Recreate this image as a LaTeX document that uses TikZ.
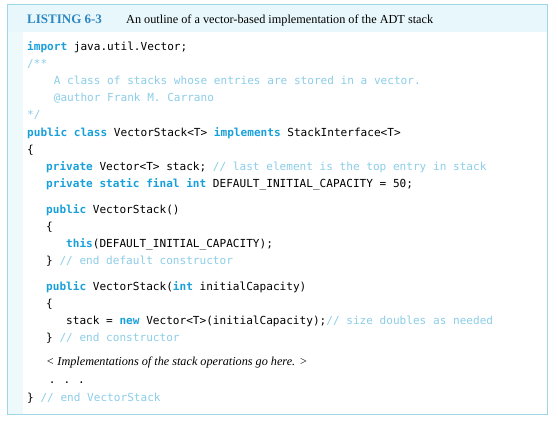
\documentclass[tikz,border=0pt]{standalone}
\usepackage{fontspec}
\setmainfont{Liberation Serif}
\newfontfamily\codefont{DejaVu Sans Mono}
\definecolor{frameblue}{RGB}{158,214,228}
\definecolor{bandfill}{RGB}{232,247,251}
\definecolor{stripfill}{RGB}{238,249,251}
\definecolor{labelblue}{RGB}{45,135,195}
\definecolor{kwblue}{RGB}{25,160,218}
\definecolor{cmtblue}{RGB}{140,205,232}
\newcommand{\kw}[1]{\textbf{\textcolor{kwblue}{#1}}}
\newcommand{\cmt}[1]{\textcolor{cmtblue}{#1}}
\begin{document}
\begin{tikzpicture}[x=1bp,y=-1bp,
  codeline/.style={anchor=base west,inner sep=0pt,font=\codefont\fontsize{11.08bp}{13bp}\selectfont},
  serifline/.style={anchor=base west,inner sep=0pt}]
\useasboundingbox (0,0) rectangle (558,422);
\fill[bandfill] (7,4) rectangle (547,32);
\fill[stripfill] (7,32) rectangle (23,414);
\draw[frameblue,line width=0.9bp] (7,4) rectangle (547,414);
\node[serifline,font=\fontsize{13bp}{15bp}\selectfont\bfseries,text=labelblue] (lab) at (27,23) {LISTING 6-3};
\node[serifline,font=\fontsize{12.25bp}{14bp}\selectfont] (cap) at (126,23) {An outline of a vector-based implementation of the ADT stack};
\node[codeline] (l1) at (27,50) {\kw{import} java.util.Vector;};
\node[codeline] (l2) at (27,67.2) {\cmt{/**}};
\node[codeline] (l3) at (27,84.4) {\cmt{\ \ \ \ A class of stacks whose entries are stored in a vector.}};
\node[codeline] (l4) at (27,101.6) {\cmt{\ \ \ \ @author Frank M. Carrano}};
\node[codeline] (l5) at (27,118.8) {\cmt{*/}};
\node[codeline] (l6) at (27,136) {\kw{public} \kw{class} VectorStack<T> \kw{implements} StackInterface<T>};
\node[codeline] (l7) at (27,153.2) {\{};
\node[codeline] (l8) at (46,170.4) {\kw{private} Vector<T> stack; \cmt{// last element is the top entry in stack}};
\node[codeline] (l9) at (46,187.6) {\kw{private} \kw{static} \kw{final} \kw{int} DEFAULT\_INITIAL\_CAPACITY = 50;};
\node[codeline] (l10) at (46,213) {\kw{public} VectorStack()};
\node[codeline] (l11) at (46,230) {\{};
\node[codeline] (l12) at (66,247) {\kw{this}(DEFAULT\_INITIAL\_CAPACITY);};
\node[codeline] (l13) at (46,264.5) {\} \cmt{// end default constructor}};
\node[codeline] (l14) at (46,290) {\kw{public} VectorStack(\kw{int} initialCapacity)};
\node[codeline] (l15) at (46,307) {\{};
\node[codeline] (l16) at (66,324) {stack = \kw{new} Vector<T>(initialCapacity);\cmt{// size doubles as needed}};
\node[codeline] (l17) at (46,341) {\} \cmt{// end constructor}};
\node[serifline,font=\fontsize{12.2bp}{14bp}\selectfont\itshape] (l18) at (46,365) {< Implementations of the stack operations go here. >};
\node[codeline] (l19) at (48.7,383) {.\hspace{8bp}.\hspace{8bp}.};
\node[codeline] (l20) at (27,401) {\} \cmt{// end VectorStack}};
\end{tikzpicture}
\end{document}
